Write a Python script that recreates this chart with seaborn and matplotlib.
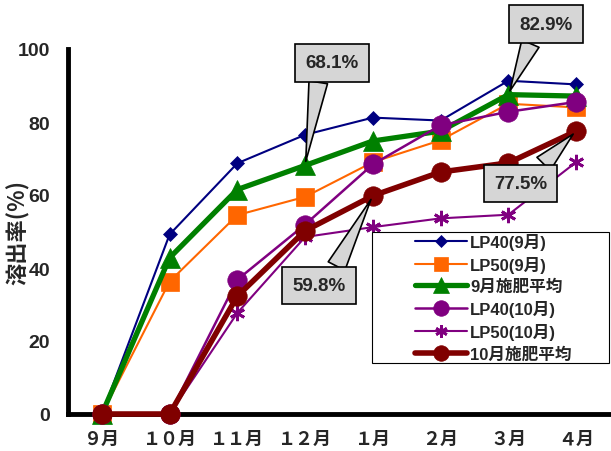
import matplotlib
matplotlib.use("Agg")
import matplotlib.pyplot as plt
import seaborn as sns
import numpy as np
from matplotlib.patches import Rectangle

# ---- data ----
months = ['９月', '１０月', '１１月', '１２月', '１月', '２月', '３月', '４月']
lp40_sep = [0, 49.2, 68.7, 76.5, 81.2, 80.4, 91.3, 90.3]
lp50_sep = [0, 36.3, 54.5, 59.5, 69.0, 75.0, 85.0, 84.0]
avg_sep = [0, 42.8, 61.5, 68.1, 74.8, 77.5, 87.5, 87.1]
lp40_oct = [0, 0, 36.8, 51.9, 68.4, 79.1, 82.8, 85.5]
lp50_oct = [0, 0, 27.7, 48.5, 51.2, 53.6, 54.6, 69.0]
avg_oct = [0, 0, 32.3, 50.2, 59.8, 66.3, 68.8, 77.5]
series_names = ['LP40(9月)', 'LP50(9月)', '9月施肥平均', 'LP40(10月)', 'LP50(10月)', '10月施肥平均']
callout_texts = ['68.1%', '82.9%', '59.8%', '77.5%']
callout_series = [2, 2, 5, 5]
callout_month = [3, 6, 4, 7]

sns.set_style("white")
plt.rcParams['font.family'] = ['Liberation Sans', 'Noto Sans CJK JP', 'DejaVu Sans']
plt.rcParams['font.weight'] = 'bold'

fig = plt.figure(figsize=(6.11, 4.52), dpi=100)
ax = fig.add_axes([68 / 611, 37 / 452, 542 / 611, 365 / 452])

x = np.arange(len(months))
all_series = [lp40_sep, lp50_sep, avg_sep, lp40_oct, lp50_oct, avg_oct]
styles = [
    dict(color='#000080', marker='D', ms=7.5, lw=1.5),
    dict(color='#FF6600', marker='s', ms=13, lw=1.5),
    dict(color='#008000', marker='^', ms=15, lw=3.8),
    dict(color='#800080', marker='o', ms=14, lw=1.8),
    dict(color='#800080', marker=(6, 2, 0), ms=11, lw=1.5),
    dict(color='#800000', marker='o', ms=14, lw=4.0),
]
for name, vals, st in zip(series_names, all_series, styles):
    mew = 2 if isinstance(st['marker'], tuple) else 0.5
    sns.lineplot(x=x, y=vals, ax=ax, color=st['color'], marker=st['marker'],
                 markersize=st['ms'], linewidth=st['lw'], label=name,
                 markeredgecolor=st['color'], markerfacecolor=st['color'],
                 markeredgewidth=mew, clip_on=False, legend=False)

ax.set_xlim(-0.5, len(months) - 0.5)
ax.set_ylim(0, 100)
ax.set_yticks(np.arange(0, 101, 20))
ax.set_xticks(x)
ax.set_xticklabels(months, fontsize=13, fontweight='bold', family=['Noto Sans CJK JP'])
ax.set_xticks(np.arange(0.5, len(months), 1), minor=True)
ax.tick_params(axis='x', which='major', length=0, pad=11)
ax.tick_params(axis='x', which='minor', direction='in', length=5, width=3, color='black')
ax.tick_params(axis='y', direction='in', length=6, width=3, color='black', pad=13, labelsize=14)
for lab in ax.get_yticklabels():
    lab.set_fontweight('bold')

for side in ['top', 'right']:
    ax.spines[side].set_visible(False)
for side in ['left', 'bottom']:
    ax.spines[side].set_linewidth(3.5)
    ax.spines[side].set_color('black')
    ax.spines[side].set_zorder(1)

ax.set_ylabel('溶出率(%)', fontsize=16, fontweight='bold', family=['Noto Sans CJK JP'])
ax.yaxis.set_label_coords(-0.07, 0.5)

# callouts
text_pos = [(3.40, 96.2), (6.56, 106.8), (3.20, 35.2), (6.18, 63.2)]
relpos = [(0.27, 0.0), (0.29, 0.0), (0.73, 1.0), (0.73, 1.0)]
for txt, si, mi, tp, rp in zip(callout_texts, callout_series, callout_month, text_pos, relpos):
    ax.annotate(txt, xy=(x[mi], all_series[si][mi]), xytext=tp, textcoords='data',
                ha='center', va='center', fontsize=13.5, fontweight='bold',
                bbox=dict(boxstyle='square,pad=0.55', fc='#d6d6d6', ec='black', lw=1.2),
                arrowprops=dict(arrowstyle='wedge,tail_width=1.0', fc='#d6d6d6', ec='black',
                                lw=1.2, relpos=rp, shrinkA=0, shrinkB=3),
                annotation_clip=False, zorder=6)

# legend frame and legend
ax.add_patch(Rectangle((0.561, 0.140), 0.437, 0.359, transform=ax.transAxes,
                       fc='white', ec='black', lw=0.8, zorder=4, clip_on=False))
leg = ax.legend(loc='upper left', bbox_to_anchor=(0.64, 0.497), frameon=False,
                borderpad=0, borderaxespad=0, handlelength=3.1, handletextpad=0.2,
                labelspacing=0.36, prop=dict(size=12, weight='bold'))
leg.set_zorder(5)
for h in leg.legend_handles:
    h.set_markersize(h.get_markersize() * 0.8)

fig.savefig('out.png', dpi=100)
